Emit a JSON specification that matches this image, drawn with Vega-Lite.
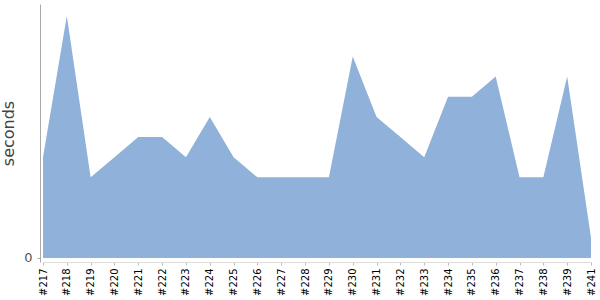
{
  "$schema": "https://vega.github.io/schema/vega-lite/v6.json",
  "autosize": "none",
  "width": 548,
  "height": 258,
  "padding": {"left": 43, "top": 4, "right": 9, "bottom": 38},
  "config": {"view": {"stroke": null}, "font": "DejaVu Sans"},
  "data": {"values": [
    {"build": "#217", "seconds": 5},
    {"build": "#218", "seconds": 12},
    {"build": "#219", "seconds": 4},
    {"build": "#220", "seconds": 5},
    {"build": "#221", "seconds": 6},
    {"build": "#222", "seconds": 6},
    {"build": "#223", "seconds": 5},
    {"build": "#224", "seconds": 7},
    {"build": "#225", "seconds": 5},
    {"build": "#226", "seconds": 4},
    {"build": "#227", "seconds": 4},
    {"build": "#228", "seconds": 4},
    {"build": "#229", "seconds": 4},
    {"build": "#230", "seconds": 10},
    {"build": "#231", "seconds": 7},
    {"build": "#232", "seconds": 6},
    {"build": "#233", "seconds": 5},
    {"build": "#234", "seconds": 8},
    {"build": "#235", "seconds": 8},
    {"build": "#236", "seconds": 9},
    {"build": "#237", "seconds": 4},
    {"build": "#238", "seconds": 4},
    {"build": "#239", "seconds": 9},
    {"build": "#241", "seconds": 1}
  ]},
  "mark": {"type": "area", "color": "#8fb1da", "opacity": 1},
  "encoding": {
    "x": {
      "field": "build", "type": "ordinal", "sort": null,
      "scale": {"type": "point", "padding": 0},
      "axis": {"title": null, "labelAngle": -90, "labelFontSize": 10, "labelColor": "#000", "labelPadding": 3,
               "tickSize": 3, "tickColor": "#bbb", "domainColor": "#ddd", "grid": false, "labelBaseline": "middle", "labelAlign": "right"}
    },
    "y": {
      "field": "seconds", "type": "quantitative",
      "scale": {"domain": [-0.2, 12.6], "nice": false, "zero": false},
      "axis": {"title": "seconds", "titleFontSize": 16, "titleFontWeight": 500, "titleColor": "#444",
               "values": [0], "offset": 3, "grid": false, "tickSize": 3, "tickColor": "#aaa", "domainColor": "#aaa",
               "labelColor": "#555", "labelFontSize": 13, "labelPadding": 5, "titlePadding": 7}
    },
    "y2": {"datum": 0}
  }
}
